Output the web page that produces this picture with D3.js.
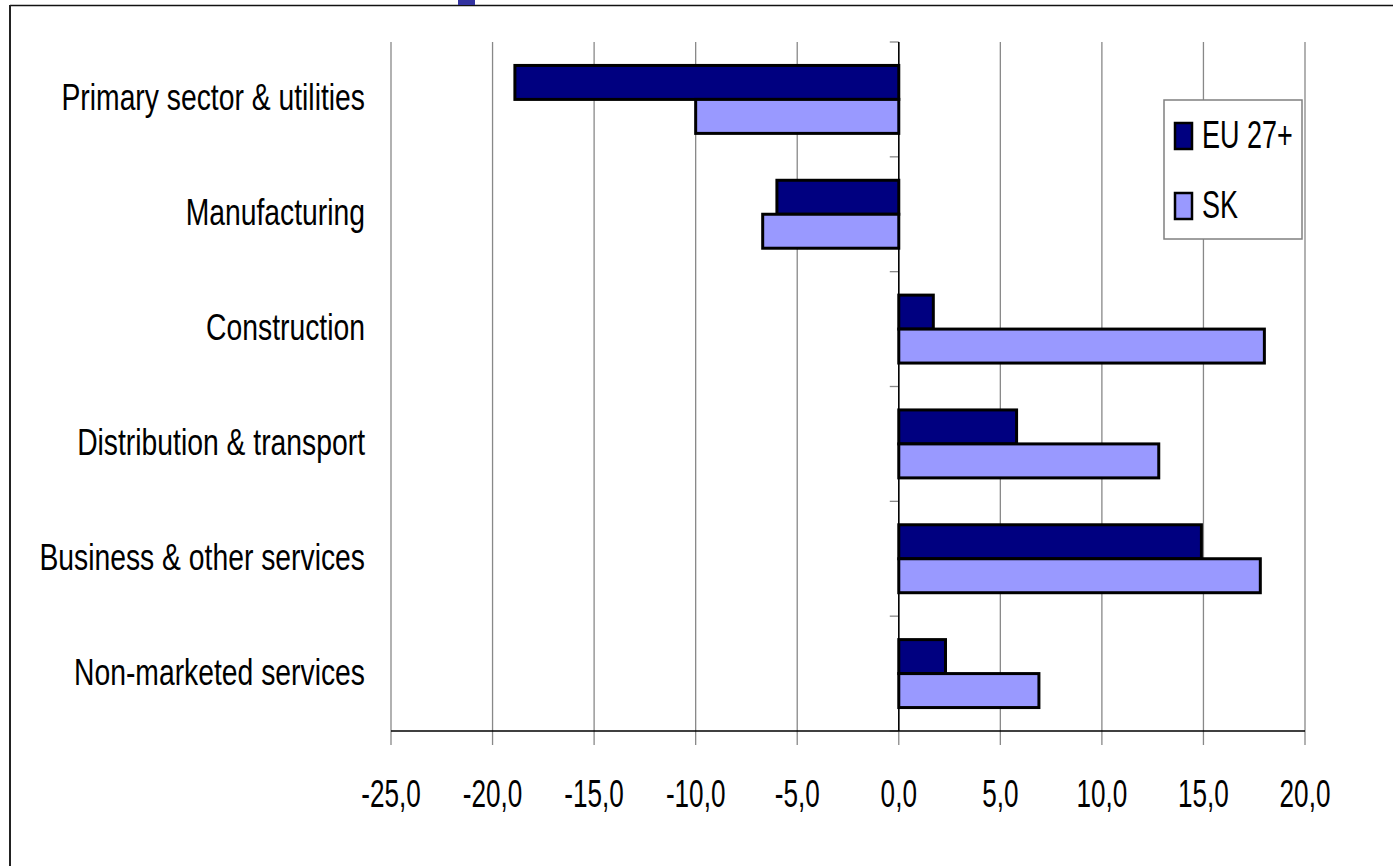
<!DOCTYPE html>
<html><head><meta charset="utf-8">
<script src="https://cdn.jsdelivr.net/npm/d3@7"></script>
<style>
body{margin:0;background:#fff;overflow:hidden}
svg{display:block}
text{font-family:"Liberation Sans",Arial,sans-serif;fill:#000}
</style>
</head><body>
<svg id="c" width="1393" height="866"></svg>
<script>
const categories = ["Primary sector & utilities","Manufacturing","Construction","Distribution & transport","Business & other services","Non-marketed services"];
const seriesNames = ["EU 27+","SK"];
const eu27 = [-18.9,-6.0,1.7,5.8,14.9,2.3];
const sk = [-10.0,-6.7,18.0,12.8,17.8,6.9];
const xTicks = [-25,-20,-15,-10,-5,0,5,10,15,20];
const xTickLabels = ["-25,0","-20,0","-15,0","-10,0","-5,0","0,0","5,0","10,0","15,0","20,0"];
const colors = ["#000080","#9999ff"];

const svg = d3.select("#c");
const L = 391, R = 1305, T = 42, B = 731;

const x = d3.scaleLinear().domain([-25,20]).range([L,R]);
const y = d3.scaleBand().domain(categories).range([T,B]).padding(0);
const y1 = d3.scaleBand().domain(seriesNames).range([0,y.bandwidth()]).paddingOuter(0.69).paddingInner(0);

// frame
svg.append("line").attr("x1",10).attr("x2",1393).attr("y1",5.5).attr("y2",5.5).attr("stroke","#111").attr("stroke-width",1.5);
svg.append("line").attr("x1",10).attr("x2",10).attr("y1",5).attr("y2",866).attr("stroke","#222").attr("stroke-width",2);
svg.append("rect").attr("x",458).attr("y",0).attr("width",17).attr("height",5).attr("fill","#3333a0");

// gridlines
svg.append("g").selectAll("line").data(xTicks).join("line")
  .attr("x1",d=>x(d)).attr("x2",d=>x(d)).attr("y1",T).attr("y2",B+14)
  .attr("stroke","#888").attr("stroke-width",1.3);

// y-axis tick marks at band edges
const edges = categories.map(c=>y(c)).concat([B]);
svg.append("g").selectAll("line").data(edges).join("line")
  .attr("x1",x(0)-9).attr("x2",x(0)).attr("y1",d=>d).attr("y2",d=>d)
  .attr("stroke","#888").attr("stroke-width",1.3);

// bars
const rows = categories.map((c,i)=>({c, vals:[eu27[i], sk[i]]}));
const g = svg.append("g");
rows.forEach(r=>{
  r.vals.forEach((v,j)=>{
    const s = seriesNames[j];
    g.append("rect")
      .attr("x", x(Math.min(0,v)))
      .attr("width", Math.abs(x(v)-x(0)))
      .attr("y", y(r.c)+y1(s))
      .attr("height", y1.bandwidth())
      .attr("fill", colors[j])
      .attr("stroke","#000").attr("stroke-width",3);
  });
});

// axes lines
svg.append("line").attr("x1",L).attr("x2",R).attr("y1",B).attr("y2",B).attr("stroke","#000").attr("stroke-width",1.5);
svg.append("line").attr("x1",x(0)).attr("x2",x(0)).attr("y1",T).attr("y2",B).attr("stroke","#000").attr("stroke-width",1.5);

// x tick labels
svg.append("g").selectAll("text").data(xTicks).join("text")
  .attr("transform",(d)=>`translate(${x(d)},807) scale(0.67,1)`)
  .attr("text-anchor","middle").style("font-size","39px")
  .text((d,i)=>xTickLabels[i]);

// category labels
svg.append("g").selectAll("text").data(categories).join("text")
  .attr("transform",d=>`translate(365,${y(d)+y.bandwidth()/2+11}) scale(0.765,1)`)
  .attr("text-anchor","end").style("font-size","37px")
  .text(d=>d);

// legend
const lg = svg.append("g");
lg.append("rect").attr("x",1164).attr("y",100).attr("width",138).attr("height",139)
  .attr("fill","#fff").attr("stroke","#808080").attr("stroke-width",1.5);
seriesNames.forEach((s,i)=>{
  const yy = 122 + i*70;
  lg.append("rect").attr("x",1175).attr("y",yy+1).attr("width",17).attr("height",26)
    .attr("fill",colors[i]).attr("stroke","#000").attr("stroke-width",2.5);
  lg.append("text").attr("transform",`translate(1202,${yy+26}) scale(0.71,1)`)
    .style("font-size","38px").text(s);
});
</script>
</body></html>
